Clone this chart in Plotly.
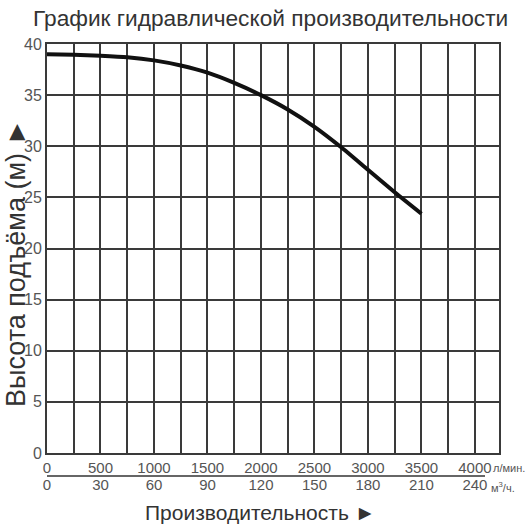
import plotly.graph_objects as go

# Data
flow_lpm = [0, 250, 500, 750, 1000, 1250, 1500, 1750, 2000, 2250, 2500, 2750, 3000, 3250, 3500]
head_m = [39.0, 38.95, 38.85, 38.7, 38.4, 37.9, 37.2, 36.2, 35.0, 33.6, 31.9, 29.9, 27.7, 25.5, 23.4]

x_ticks_lpm = [0, 500, 1000, 1500, 2000, 2500, 3000, 3500, 4000]
x_ticks_m3h = [0, 30, 60, 90, 120, 150, 180, 210, 240]
y_ticks = [0, 5, 10, 15, 20, 25, 30, 35, 40]

title_text = "График гидравлической производительности"
x_title = "Производительность ►"
y_title = "Высота подъёма (м) ►"
unit_lpm = "л/мин."
unit_m3h = "м<sup>3</sup>/ч."

LPM_PER_M3H = 1000.0 / 60.0
x_max_lpm = 4225
x_max_m3h = x_max_lpm / LPM_PER_M3H

FONT = "Liberation Sans, Arial, sans-serif"
GRID = "#3a3a3a"
TICKC = "#555555"
TITLEC = "#333333"

# plot area in page pixels
L, R, T, B = 47, 499, 44, 453
PW, PH = R - L, B - T


def px(x):
    return (x - L) / PW


def py(y):
    return (B - y) / PH


fig = go.Figure()
fig.add_trace(go.Scatter(
    x=flow_lpm, y=head_m, mode="lines",
    line=dict(color="#111111", width=4, shape="spline", smoothing=0.6),
    hoverinfo="skip", showlegend=False,
))
fig.add_trace(go.Scatter(
    x=[v / LPM_PER_M3H for v in flow_lpm], y=head_m, xaxis="x2", mode="lines",
    line=dict(color="rgba(0,0,0,0)", width=0),
    hoverinfo="skip", showlegend=False,
))

fig.update_layout(
    width=527, height=527,
    margin=dict(l=L, r=527 - R, t=T, b=527 - B),
    paper_bgcolor="white", plot_bgcolor="white",
    font=dict(family=FONT, color=TICKC, size=15),
    xaxis=dict(
        range=[0, x_max_lpm], tickmode="array", tickvals=x_ticks_lpm,
        ticktext=[str(v) for v in x_ticks_lpm],
        showgrid=True, gridcolor=GRID, gridwidth=1.6,
        minor=dict(dtick=250, tick0=0, showgrid=True, gridcolor=GRID, gridwidth=1.6),
        showline=True, linecolor=GRID, linewidth=2, mirror=True,
        zeroline=False, ticks="", tickfont=dict(family=FONT, size=15, color=TICKC),
        ticklabelstandoff=0, automargin=False,
    ),
    xaxis2=dict(
        range=[0, x_max_m3h], overlaying="x", anchor="y", side="bottom",
        tickmode="array", tickvals=x_ticks_m3h, ticktext=[str(v) for v in x_ticks_m3h],
        showgrid=False, showline=False, zeroline=False, ticks="",
        tickfont=dict(family=FONT, size=15, color=TICKC), ticklabelstandoff=21,
        automargin=False,
    ),
    yaxis=dict(
        range=[0, 40], tickmode="array", tickvals=y_ticks,
        showgrid=True, gridcolor=GRID, gridwidth=1.6,
        showline=True, linecolor=GRID, linewidth=2, mirror=True,
        zeroline=False, ticks="", tickfont=dict(family=FONT, size=16, color=TICKC),
        ticklabelstandoff=0, automargin=False,
    ),
)

# titles
fig.add_annotation(text=title_text, xref="paper", yref="paper", x=px(270), y=py(18),
                   xanchor="center", yanchor="middle", showarrow=False,
                   font=dict(family=FONT, size=22.7, color=TITLEC))
fig.add_annotation(text=x_title, xref="paper", yref="paper", x=px(260), y=py(512),
                   xanchor="center", yanchor="middle", showarrow=False,
                   font=dict(family=FONT, size=21, color=TITLEC))
fig.add_annotation(text=y_title, xref="paper", yref="paper", textangle=-90,
                   x=px(16), y=py(263), xanchor="center", yanchor="middle", showarrow=False,
                   font=dict(family=FONT, size=27, color=TITLEC))

# separator line between the two rows of flow labels
fig.add_shape(type="line", xref="paper", yref="paper", x0=0, x1=px(485),
              y0=py(476), y1=py(476), line=dict(color="#666666", width=2))

fig.add_annotation(text=unit_lpm, xref="paper", yref="paper", x=px(491), y=py(468),
                   xanchor="left", yanchor="middle", showarrow=False,
                   font=dict(family=FONT, size=11, color=TICKC))
fig.add_annotation(text=unit_m3h, xref="paper", yref="paper", x=px(489), y=py(487),
                   xanchor="left", yanchor="middle", showarrow=False,
                   font=dict(family=FONT, size=11, color=TICKC))

# remove the default page margin so the 527x527 figure fills the window exactly
fig.write_html(
    "out.html",
    config={"displayModeBar": False},
    post_script="document.body.style.margin='0';document.body.style.padding='0';",
)
